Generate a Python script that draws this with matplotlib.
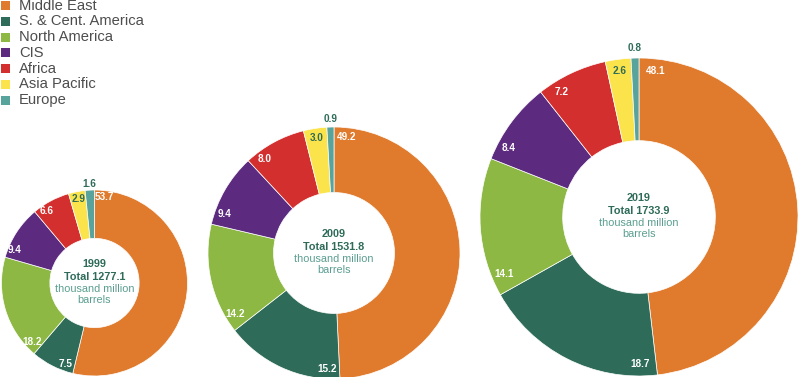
import numpy as np
import matplotlib.pyplot as plt
from matplotlib.patches import Rectangle

plt.rcParams['font.family'] = ['Liberation Sans', 'DejaVu Sans']

regions = ['Middle East', 'S. & Cent. America', 'North America', 'CIS',
           'Africa', 'Asia Pacific', 'Europe']
colors = ['#e07b2e', '#2e6b59', '#8cb843', '#5c2a7e', '#d32f2e', '#fae34b', '#58a39c']

years = ['1999', '2009', '2019']
totals = [1277.1, 1531.8, 1733.9]
share_1999 = [53.7, 7.5, 18.2, 9.4, 6.6, 2.9, 1.6]
share_2009 = [49.2, 15.2, 14.2, 9.4, 8.0, 3.0, 0.9]
share_2019 = [48.1, 18.7, 14.1, 8.4, 7.2, 2.6, 0.8]
shares = [share_1999, share_2009, share_2019]

dark = '#2e6b59'
light = '#5a9e90'

W, H = 800, 377
fig = plt.figure(figsize=(W / 100, H / 100), dpi=100)

# donut placement in pixels: centre x, centre y (from top), outer radius
layout = [(94.5, 283, 93), (334, 253, 126), (639, 217, 159)]
pad = 1.02

for year, total, vals, (cx, cy, R) in zip(years, totals, shares, layout):
    ax = fig.add_axes([(cx - R * pad) / W, (H - cy - R * pad) / H,
                       2 * R * pad / W, 2 * R * pad / H])
    wedges, _ = ax.pie(vals, colors=colors, startangle=90, counterclock=False,
                       wedgeprops=dict(width=0.52, edgecolor='white', linewidth=0.5))
    ax.set_xlim(-pad, pad)
    ax.set_ylim(-pad, pad)
    ax.set_aspect('equal')
    ax.axis('off')

    for i, (w, v) in enumerate(zip(wedges, vals)):
        span = w.theta2 - w.theta1
        if i == len(vals) - 1:
            # tiny Europe slice: label sits just outside the ring
            ang = np.radians((w.theta1 + w.theta2) / 2)
            ax.text(1.065 * np.cos(ang), 1.065 * np.sin(ang), f'{v:.1f}',
                    ha='center', va='center', fontsize=7.2, fontweight='bold', color=dark)
            continue
        ang = np.radians(w.theta2 - min(span / 2, 6.3))
        col = dark if i == 5 else 'white'
        ax.text(0.925 * np.cos(ang), 0.925 * np.sin(ang), f'{v:.1f}',
                ha='center', va='center', fontsize=7.2, fontweight='bold', color=col)

    lines = [(year, 'bold', dark), (f'Total {total:.1f}', 'bold', dark),
             ('thousand million', 'normal', light), ('barrels', 'normal', light)]
    for (txt, wt, col), off in zip(lines, [-19, -6.5, 5.5, 17]):
        ax.text(0, -off / R, txt, ha='center', va='center', fontsize=7.8,
                fontweight=wt, color=col)

# legend, drawn in figure pixels
for i, (name, col) in enumerate(zip(regions, colors)):
    yc = 5.5 + i * 15.8
    fig.add_artist(Rectangle((1 / W, (H - yc - 4.5) / H), 9 / W, 9 / H,
                             transform=fig.transFigure, facecolor=col, edgecolor='none'))
    fig.text(19 / W, (H - yc) / H, name, ha='left', va='center',
             fontsize=10.6, color='#4d4d4d')

fig.savefig('out.png', dpi=100)
